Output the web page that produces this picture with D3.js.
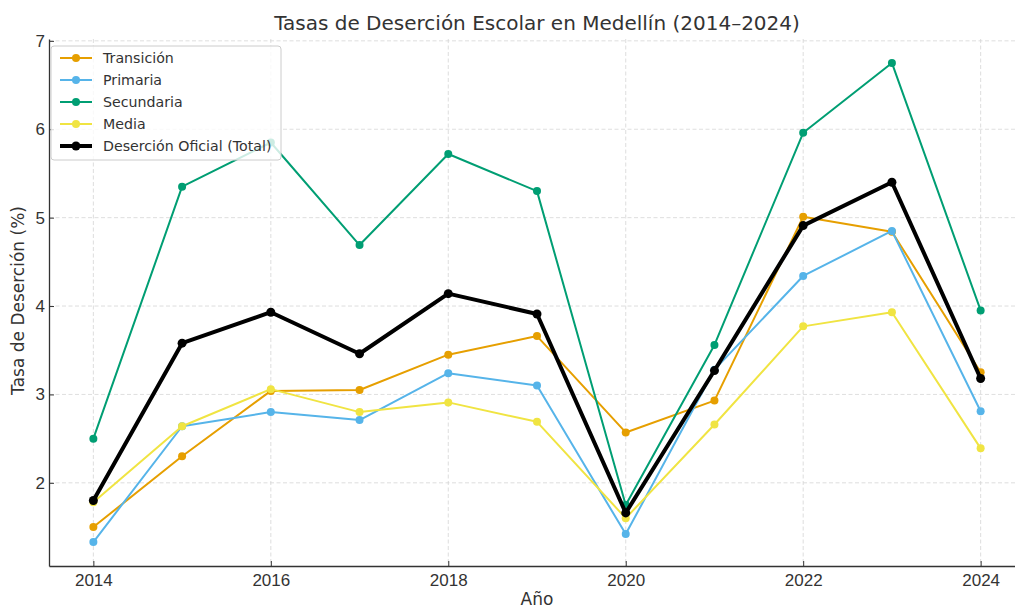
<!DOCTYPE html>
<html>
<head>
<meta charset="utf-8">
<script src="https://cdn.jsdelivr.net/npm/d3@7"></script>
<style>
  body { margin: 0; background: #fff; }
  svg { font-family: "DejaVu Sans", sans-serif; }
  .grid line { stroke: #d6d6d6; stroke-dasharray: 4 2.5; stroke-width: 0.8; }
  .axis text { font-size: 17px; fill: #333; }
  .axis path, .axis line { stroke: #333; }
</style>
</head>
<body>
<div id="chart"></div>
<script>
// Data
const years = [2014, 2015, 2016, 2017, 2018, 2019, 2020, 2021, 2022, 2023, 2024];
const transicion = [1.50, 2.30, 3.04, 3.05, 3.45, 3.66, 2.57, 2.93, 5.01, 4.84, 3.25];
const primaria   = [1.33, 2.64, 2.80, 2.71, 3.24, 3.10, 1.42, 3.28, 4.34, 4.85, 2.81];
const secundaria = [2.50, 5.35, 5.85, 4.69, 5.72, 5.30, 1.75, 3.56, 5.96, 6.75, 3.95];
const media      = [1.78, 2.64, 3.06, 2.80, 2.91, 2.69, 1.60, 2.66, 3.77, 3.93, 2.39];
const total      = [1.80, 3.58, 3.93, 3.46, 4.14, 3.91, 1.66, 3.27, 4.91, 5.40, 3.18];
const xTicks = [2014, 2016, 2018, 2020, 2022, 2024];
const yTicks = [2, 3, 4, 5, 6, 7];

const series = [
  { name: "Transición", values: transicion, color: "#E69F00", width: 2, r: 4 },
  { name: "Primaria", values: primaria, color: "#56B4E9", width: 2, r: 4 },
  { name: "Secundaria", values: secundaria, color: "#009E73", width: 2, r: 4 },
  { name: "Media", values: media, color: "#F0E442", width: 2, r: 4 },
  { name: "Deserción Oficial (Total)", values: total, color: "#000000", width: 4, r: 4.5 }
];

const width = 1015, height = 607;
const margin = { top: 39, right: -10, bottom: 41, left: 49 };
const innerW = width - margin.left - margin.right;
const innerH = height - margin.top - margin.bottom;

// matplotlib-style autoscale with 5% margins
const allVals = series.flatMap(s => s.values);
const yMin = d3.min(allVals), yMax = d3.max(allVals);
const yPad = (yMax - yMin) * 0.05;

const x = d3.scaleLinear([2013.5, 2024.5], [0, innerW]);
const y = d3.scaleLinear([yMin - yPad, yMax + yPad], [innerH, 0]);

const svg = d3.select("#chart").append("svg")
  .attr("width", width).attr("height", height);

const g = svg.append("g")
  .attr("transform", `translate(${margin.left}, ${margin.top})`);

// Grid
g.append("g").attr("class", "grid")
  .selectAll("line").data(xTicks).join("line")
  .attr("x1", d => x(d)).attr("x2", d => x(d))
  .attr("y1", 0).attr("y2", innerH);
g.append("g").attr("class", "grid")
  .selectAll("line").data(yTicks).join("line")
  .attr("x1", 0).attr("x2", innerW)
  .attr("y1", d => y(d)).attr("y2", d => y(d));

// Lines and markers
const line = d3.line().x((d, i) => x(years[i])).y(d => y(d));
series.forEach(s => {
  const sg = g.append("g");
  sg.append("path")
    .attr("d", line(s.values))
    .attr("fill", "none")
    .attr("stroke", s.color)
    .attr("stroke-width", s.width)
    .attr("stroke-linejoin", "round");
  sg.selectAll("circle").data(s.values).join("circle")
    .attr("cx", (d, i) => x(years[i]))
    .attr("cy", d => y(d))
    .attr("r", s.r)
    .attr("fill", s.color);
});

// Axes (ticks point inward)
const axisX = g.append("g").attr("class", "axis")
  .attr("transform", `translate(0, ${innerH})`)
  .call(d3.axisBottom(x).tickValues(xTicks).tickFormat(d3.format("d"))
    .tickSizeInner(-5).tickSizeOuter(0).tickPadding(8));
const axisY = g.append("g").attr("class", "axis")
  .call(d3.axisLeft(y).tickValues(yTicks).tickFormat(d3.format("d"))
    .tickSizeInner(-5).tickSizeOuter(0).tickPadding(4));
axisX.select(".domain").attr("stroke-width", 1.3);
axisY.select(".domain").attr("stroke-width", 1.3);

// Title and labels
svg.append("text")
  .attr("x", margin.left + innerW / 2).attr("y", 30)
  .attr("text-anchor", "middle")
  .style("font-size", "20px").style("fill", "#333")
  .text("Tasas de Deserción Escolar en Medellín (2014–2024)");

svg.append("text")
  .attr("x", margin.left + innerW / 2).attr("y", 605)
  .attr("text-anchor", "middle")
  .style("font-size", "17px").style("fill", "#333")
  .text("Año");

svg.append("text")
  .attr("transform", `translate(24, ${margin.top + innerH / 2 - 2}) rotate(-90)`)
  .attr("text-anchor", "middle")
  .style("font-size", "17px").style("fill", "#333")
  .text("Tasa de Deserción (%)");

// Legend
const legend = svg.append("g").attr("transform", "translate(51, 46)");
legend.append("rect")
  .attr("width", 230).attr("height", 114).attr("rx", 3)
  .attr("fill", "rgba(255,255,255,0.8)")
  .attr("stroke", "#ccc").attr("stroke-width", 1);
const items = legend.selectAll("g.item").data(series).join("g")
  .attr("transform", (d, i) => `translate(0, ${12 + i * 22})`);
items.append("line")
  .attr("x1", 9).attr("x2", 41)
  .attr("stroke", d => d.color).attr("stroke-width", d => d.width);
items.append("circle")
  .attr("cx", 25).attr("r", d => d.r).attr("fill", d => d.color);
items.append("text")
  .attr("x", 52).attr("dy", "0.35em")
  .style("font-size", "14.2px").style("fill", "#333")
  .text(d => d.name);
</script>
</body>
</html>
